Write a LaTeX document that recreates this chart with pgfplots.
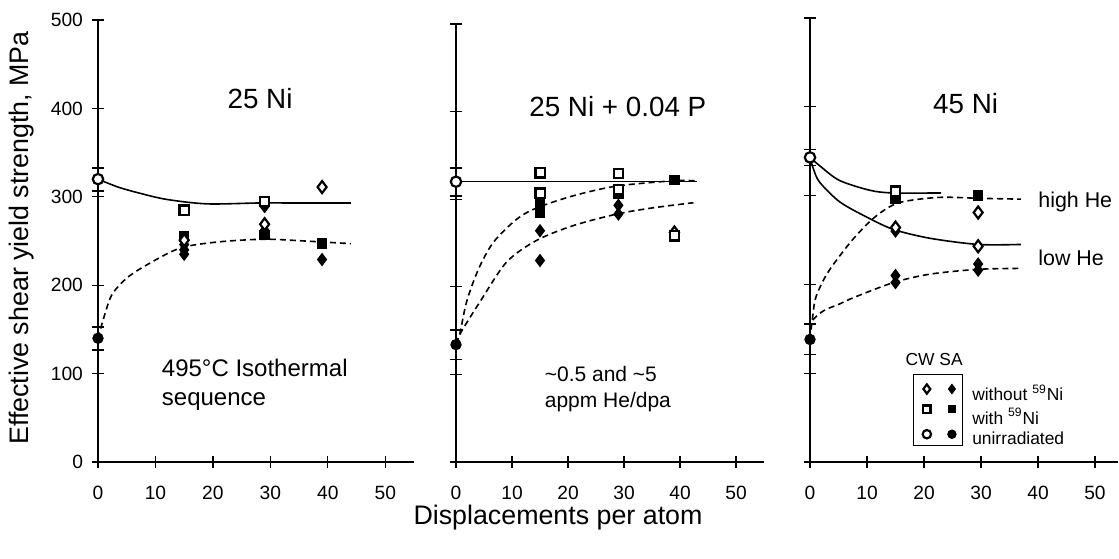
\documentclass[border=0pt]{standalone}
\usepackage{fontspec}
\setmainfont{Liberation Sans}
\usepackage{pgfplots}
\pgfplotsset{compat=1.18}
\begin{document}
\begin{tikzpicture}
\useasboundingbox (0,0) rectangle (559.5pt,279pt);
\pgfplotsset{
  panel/.style={
    scale only axis, anchor=south west,
    xmin=0, xmax=55, ymin=0, ymax=500,
    axis lines=left, axis line style={-, line width=0.8pt},
    xtick={0,10,...,50}, ytick={0,100,...,500},
    tick align=center, major tick length=6pt,
    tick style={black, line width=0.6pt},
    ticklabel style={font=\fontsize{9.6}{11}\selectfont},
    xticklabel style={yshift=-5.5pt},
    yticklabel style={xshift=-1pt},
    /pgf/number format/assume math mode=true,
    clip=false,
  },
  solidc/.style={black, line width=0.8pt, smooth, mark=none},
  dashc/.style={black, line width=0.8pt, smooth, mark=none, dash pattern=on 3pt off 2pt},
  odiam/.style={only marks, mark=diamond*, mark size=3pt, mark options={draw=black, fill=white, line width=1.1pt}},
  fdiam/.style={only marks, mark=diamond*, mark size=3pt, mark options={draw=black, fill=black, line width=0.5pt}},
  osq/.style={only marks, mark=square*, mark size=2.3pt, mark options={draw=black, fill=white, line width=1.1pt}},
  fsq/.style={only marks, mark=square*, mark size=2.4pt, mark options={draw=black, fill=black, line width=0.5pt}},
  ocirc/.style={only marks, mark=*, mark size=2.6pt, mark options={draw=black, fill=white, line width=1.1pt}},
  fcirc/.style={only marks, mark=*, mark size=2.6pt, mark options={draw=black, fill=black, line width=0.5pt}},
  ebar/.style={black, line width=0.9pt, mark=-, mark size=3pt, mark options={solid, line width=0.9pt}},
}
% ---------------- Panel 1: 25 Ni
\begin{axis}[panel, at={(49pt,48pt)}, width=158pt, height=221pt]
\addplot[solidc] coordinates {(0,320) (3.5,311) (7.3,304) (12,297) (19,292) (28,293) (36,293) (44,293)};
\addplot[dashc] coordinates {(0,140) (1,163) (2.4,189) (5,208) (8.5,223) (14.3,242) (21,249) (29,252) (36,250) (44,247)};
\addplot[ebar] coordinates {(0,307) (0,333)};
\addplot[ebar] coordinates {(0,127) (0,153)};
\addplot[ocirc] coordinates {(0,320)};
\addplot[fcirc] coordinates {(0,140)};
\addplot[fsq] coordinates {(15,255) (29,257) (39,247)};
\addplot[fdiam] coordinates {(15,246) (15,240) (15,235) (29,289) (29,262) (39,229)};
\addplot[odiam] coordinates {(15,251) (29,269) (39,311)};
\addplot[osq] coordinates {(15,285) (29,295)};
\node[font=\fontsize{13.9}{16}\selectfont] at (axis cs:28.2,411) {25 Ni};
\node[font=\fontsize{12}{14.5}\selectfont, anchor=west, align=left] at (axis cs:9.9,87.5) {495\textdegree C Isothermal\\sequence};
\end{axis}
% ---------------- Panel 2: 25 Ni + 0.04 P
\begin{axis}[panel, at={(228pt,48pt)}, width=154pt, height=219pt, yticklabels={}]
\addplot[solidc] coordinates {(0,320) (43,320)};
\addplot[dashc] coordinates {(0,135) (0.7,147) (1.9,183) (4,220) (6.7,251) (10.8,277) (14.4,290) (21,304) (28.7,315) (38.8,321) (43,321)};
\addplot[dashc] coordinates {(0,135) (0.8,147) (2.5,165) (4.3,183) (9,228) (14.4,253) (21,270) (28.7,283) (35,290) (42.4,296)};
\addplot[ebar] coordinates {(0,304) (0,336)};
\addplot[ebar] coordinates {(0,117) (0,151)};
\addplot[ocirc] coordinates {(0,320)};
\addplot[fcirc] coordinates {(0,134)};
\addplot[fsq] coordinates {(15,296) (15,285) (29,306) (39,322)};
\addplot[fdiam] coordinates {(15,264) (15,230) (29,293) (29,283)};
\addplot[odiam] coordinates {(39,262)};
\addplot[osq] coordinates {(15,330) (15,307) (29,329.5) (29,311) (39,258)};
\node[font=\fontsize{13.9}{16}\selectfont] at (axis cs:28.9,406) {25 Ni + 0.04 P};
\node[font=\fontsize{10.5}{13.3}\selectfont, anchor=west, align=left] at (axis cs:14.6,83.3) {\textasciitilde 0.5 and \textasciitilde 5\\appm He/dpa};
\end{axis}
% ---------------- Panel 3: 45 Ni
\begin{axis}[panel, at={(405pt,48pt)}, width=153.9pt, height=222pt, xmax=54, yticklabels={}]
\addplot[solidc] coordinates {(0,343) (2,332) (5.2,317) (10.5,306) (14.6,303) (23,303)};
\addplot[solidc] coordinates {(0,343) (0.6,330) (1.7,315) (5.2,293) (9.9,276) (14.6,262) (21,252) (29.5,245) (37,245)};
\addplot[dashc] coordinates {(0,138) (0.4,160) (1,185) (2.8,210) (5.2,232) (8.1,255) (11.6,277) (15.6,292) (22.6,298) (29.5,297) (37,296)};
\addplot[dashc] coordinates {(0,138) (0.2,157) (2.3,170) (5.2,178) (7.6,185) (14.6,202) (21,211.5) (29.5,217) (37,218)};
\addplot[ebar] coordinates {(0,334) (0,352)};
\addplot[ebar] coordinates {(0,121) (0,155)};
\addplot[ocirc] coordinates {(0,343)};
\addplot[fcirc] coordinates {(0,138)};
\addplot[fsq] coordinates {(15,296) (29.5,300)};
\addplot[fdiam] coordinates {(15,260) (15,210) (15,202) (29.5,223) (29.5,216)};
\addplot[odiam] coordinates {(15,264) (29.5,281) (29.5,243)};
\addplot[osq] coordinates {(15,305)};
% legend
\draw[line width=0.7pt] (axis cs:18.2,98.4) rectangle (axis cs:26.8,18.4);
\addplot[odiam, mark size=2.3pt] coordinates {(20.5,82.2)};
\addplot[fdiam, mark size=2.3pt] coordinates {(24.9,82.2)};
\addplot[osq, mark size=1.8pt] coordinates {(20.5,59.6)};
\addplot[fsq, mark size=1.9pt] coordinates {(24.9,59.6)};
\addplot[ocirc, mark size=2.1pt] coordinates {(20.5,31.3)};
\addplot[fcirc, mark size=2.1pt] coordinates {(24.9,31.3)};
\node[font=\fontsize{13.9}{16}\selectfont] at (axis cs:27.3,404) {45 Ni};
\node[font=\fontsize{10.7}{13}\selectfont, anchor=west, inner sep=0pt] at (axis cs:40,292.6) {high He};
\node[font=\fontsize{10.7}{13}\selectfont, anchor=west, inner sep=0pt] at (axis cs:40,230) {low He};
\node[font=\fontsize{8.7}{10}\selectfont, anchor=west, inner sep=0pt] at (axis cs:16.7,115.4) {CW SA};
\node[font=\fontsize{8.7}{10}\selectfont, anchor=west, inner sep=0pt] at (axis cs:28.4,77.7) {without \textsuperscript{59}Ni};
\node[font=\fontsize{8.7}{10}\selectfont, anchor=west, inner sep=0pt] at (axis cs:28.4,51.2) {with \textsuperscript{59}Ni};
\node[font=\fontsize{8.7}{10}\selectfont, anchor=west, inner sep=0pt] at (axis cs:28.4,26.8) {unirradiated};
\end{axis}
\node[rotate=90, font=\fontsize{13.4}{16}\selectfont] at (11pt,160pt) {Effective shear yield strength, MPa};
\node[font=\fontsize{13.4}{16}\selectfont] at (279pt,20pt) {Displacements per atom};
\end{tikzpicture}
\end{document}
